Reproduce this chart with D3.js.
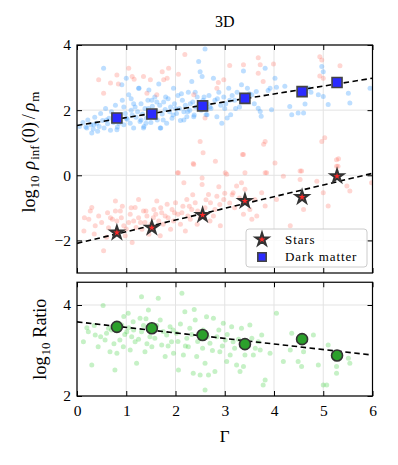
<!DOCTYPE html>
<html><head><meta charset="utf-8">
<script src="https://cdn.jsdelivr.net/npm/d3@7"></script>
<style>body{margin:0;background:#fff}svg{display:block}text{font-family:"Liberation Serif","Times New Roman",serif;fill:#000}</style>
</head><body><svg id="c" width="398" height="465"></svg>
<script>
const gammaTicks=[0,1,2,3,4,5,6];
const topYTicks=[-2,0,2,4];
const botYTicks=[2,4];
const binGamma=[0.81,1.52,2.55,3.41,4.57,5.28];
const dmMedian=[1.76,1.88,2.13,2.36,2.57,2.85];
const starMedian=[-1.76,-1.61,-1.22,-0.79,-0.67,-0.03];
const ratioMedian=[3.52,3.49,3.34,3.14,3.25,2.89];
const fitGamma=[0,6];
const dmFit=[1.53,2.98];
const starFit=[-2.09,0.06];
const ratioFit=[3.63,2.90];
const legendLabels=["Stars","Dark matter"];

const dmScatter=[[0.05,1.5],[0.12,1.62],[0.18,1.48],[0.22,1.7],[0.28,1.55],[0.33,1.42],[0.36,1.78],[0.4,1.6],[0.45,1.5],[0.48,1.9],[0.52,1.68],[0.55,1.45],[0.58,2.05],[0.62,1.58],[0.65,1.75],[0.68,1.38],[0.7,1.95],[0.74,1.62],[0.78,2.15],[0.82,1.48],[0.85,1.82],[0.88,1.65],[0.92,2.3],[0.95,1.55],[0.98,1.9],[1.02,1.72],[1.05,2.47],[1.08,1.6],[1.1,2.0],[1.12,1.85],[1.15,1.45],[1.18,2.1],[1.2,1.78],[1.23,1.95],[1.26,2.67],[1.28,1.65],[1.3,2.2],[1.33,1.88],[1.36,1.5],[1.38,2.05],[1.41,1.75],[1.44,2.3],[1.46,2.62],[1.48,1.92],[1.5,1.62],[1.53,2.12],[1.56,1.8],[1.58,2.4],[1.6,1.98],[1.63,1.7],[1.66,2.8],[1.68,2.15],[1.7,1.45],[1.73,1.88],[1.76,2.25],[1.79,2.02],[1.82,1.6],[1.85,2.35],[1.88,1.95],[1.9,2.1],[1.93,1.75],[1.96,2.67],[1.98,2.2],[2.02,1.9],[2.05,2.45],[2.08,2.05],[2.1,1.68],[2.14,2.3],[2.17,1.95],[2.2,2.15],[2.23,1.8],[2.26,2.55],[2.29,2.0],[2.33,2.88],[2.35,2.25],[2.38,1.85],[2.41,2.1],[2.44,2.4],[2.47,3.49],[2.5,3.18],[2.52,2.0],[2.54,3.03],[2.56,2.3],[2.6,3.88],[2.62,1.86],[2.65,2.2],[2.68,2.45],[2.72,2.05],[2.77,2.98],[2.8,2.3],[2.84,1.8],[2.88,2.55],[2.92,2.15],[2.94,1.6],[2.98,2.4],[3.02,2.2],[3.05,1.76],[3.08,2.67],[3.12,1.86],[3.15,2.45],[3.2,2.3],[3.25,2.55],[3.3,2.1],[3.34,2.78],[3.38,3.2],[3.42,2.4],[3.46,2.67],[3.5,2.5],[3.55,2.47],[3.6,2.2],[3.64,2.57],[3.68,2.06],[3.72,1.96],[3.74,1.81],[3.82,3.29],[3.88,2.6],[3.92,2.67],[3.95,2.01],[4.02,2.98],[4.05,2.7],[4.22,2.73],[4.32,2.11],[4.36,1.86],[4.49,1.91],[4.6,1.91],[4.63,2.19],[4.7,2.67],[4.75,2.55],[4.9,2.47],[4.97,3.34],[5.0,3.18],[5.0,2.42],[5.1,2.17],[5.51,2.52],[5.54,2.22],[5.95,2.67],[0.54,3.29],[1.0,2.98],[0.91,2.78],[1.25,2.67],[0.2,1.45],[0.34,1.55],[0.81,1.4],[1.35,1.45],[1.69,1.45],[2.17,1.7],[2.37,1.8],[2.64,1.86],[1.52,2.3],[1.1,2.35],[0.6,1.7],[0.85,1.6],[1.4,1.6],[1.95,1.85],[2.5,2.15],[3.0,2.05],[2.3,2.2],[1.75,1.7],
[0.3,1.3],[0.42,1.35],[0.95,2.1],[1.15,2.2],[1.3,1.7],[1.45,2.05],[1.62,2.25],[1.8,2.4],[2.0,2.05],[2.12,2.5],[2.25,1.95],[2.4,2.55],[2.58,2.4],[2.7,2.1],[2.85,2.35],[3.1,2.3],[3.22,2.05],[3.35,2.35],[0.75,1.85],[1.0,1.75]];

const starScatter=[[0.44,2.93],[0.54,2.52],[0.68,2.83],[0.81,3.08],[0.84,2.8],[1.05,3.29],[1.12,3.03],[1.16,2.95],[1.35,3.03],[1.42,2.52],[1.49,2.93],[1.62,2.47],[1.73,3.18],[1.76,2.93],[1.86,3.29],[1.83,2.98],[2.06,3.1],[2.19,3.71],[2.37,2.47],[2.6,1.76],[2.5,1.04],[2.56,0.69],[2.36,0.36],[2.04,0.08],[2.84,2.67],[2.87,2.85],[2.98,2.93],[3.1,3.37],[3.38,3.39],[3.68,3.61],[3.72,3.39],[3.68,3.13],[3.78,2.88],[3.99,3.42],[4.93,3.64],[4.97,3.54],[5.0,2.98],[5.34,3.36],[4.93,3.05],[3.82,1.04],[3.79,0.95],[3.38,0.64],[4.02,0.38],[4.56,0.13],[5.03,1.15],[4.97,1.04],[5.31,0.51],[5.27,0.28],[3.41,0.08],[3.82,0.08],
[0.14,-1.71],[0.27,-1.1],[0.3,-0.99],[0.24,-1.35],[0.44,-1.25],[0.37,-1.55],[0.54,-2.32],[0.64,-1.61],[0.68,-1.3],[0.78,-0.79],[0.78,-1.1],[0.88,-1.1],[0.81,-1.4],[0.95,-1.55],[0.98,-1.86],[1.08,-1.2],[1.12,-2.06],[1.15,-1.4],[1.18,-0.99],[1.25,-0.74],[1.29,-1.45],[1.32,-1.66],[1.35,-1.1],[1.42,-1.25],[1.46,-1.81],[1.56,-1.05],[1.62,-0.79],[1.66,-1.4],[1.69,-1.86],[1.79,-1.25],[1.83,-0.89],[1.9,-1.66],[1.93,-1.05],[1.96,-1.4],[2.0,-0.84],[2.06,0.08],[2.1,-1.5],[2.13,-1.15],[2.17,-0.23],[2.2,-1.71],[2.23,-0.74],[2.3,-1.35],[2.33,-1.05],[2.37,0.33],[2.4,-0.84],[2.44,-1.5],[2.54,-0.28],[2.54,-0.08],[2.67,-0.59],[2.71,-0.84],[2.77,-1.25],[2.81,0.43],[2.84,-0.64],[2.91,-1.55],[2.98,-0.74],[3.01,0.08],
[3.04,0.03],[3.17,-0.54],[3.24,-0.33],[3.34,-0.23],[3.36,0.64],[3.41,-0.43],[3.38,-1.2],[3.51,-1.05],[3.55,-1.35],[3.61,-0.74],[3.65,-1.25],[3.75,-0.54],[3.82,-0.94],[3.85,0.08],[4.05,-0.74],[4.19,-0.03],[4.33,-1.55],[4.53,0.13],[4.53,-0.13],[4.6,-1.05],[4.87,-0.18],[5.0,-0.54],[5.1,-0.94],[5.27,0.48],[5.3,0.28],[5.48,-0.33],[5.54,-0.48],[5.98,-0.23],
[0.5,-1.45],[0.6,-1.9],[0.72,-1.35],[0.9,-1.3],[1.0,-1.65],[1.05,-1.45],[1.2,-1.6],[1.25,-1.3],[1.4,-1.1],[1.5,-1.5],[1.6,-1.2],[1.75,-1.5],[1.85,-1.3],[2.05,-1.2],[2.15,-0.95],[2.25,-1.25],[2.45,-1.1],[2.6,-1.0],[2.7,-1.4],[2.9,-0.9],[3.1,-0.85],[3.2,-1.0],[0.35,-1.8],[0.15,-1.3],[2.88,-0.35],[3.0,-0.55],[3.3,-0.7],[1.1,-1.0],[1.7,-1.0],[2.35,-0.6],
[0.62,-1.15],[0.92,-0.95],[1.38,-1.45],[1.55,-1.3],[1.72,-1.15],[1.98,-1.15],[2.28,-0.95],[2.5,-1.3],[2.62,-0.75],[2.8,-1.05],[3.15,-0.6],[3.45,-0.85]];

const ratioScatter=[[0.53,3.99],[0.13,3.19],[0.23,3.41],[0.3,2.68],[0.37,3.34],[0.43,3.08],[0.57,3.23],[0.6,3.38],[0.64,3.49],[0.67,2.97],[0.77,2.57],[0.81,2.94],[0.87,3.23],[0.91,3.56],[0.94,3.08],[1.01,3.41],[1.04,3.82],[1.08,3.01],[1.11,3.3],[1.14,3.63],[1.18,3.19],[1.21,2.72],[1.28,3.71],[1.31,4.18],[1.31,3.41],[1.38,2.97],[1.45,3.89],[1.48,3.3],[1.52,3.08],[1.58,3.27],[1.65,4.15],[1.69,3.67],[1.72,3.12],[1.79,2.87],[1.82,3.34],[1.89,3.52],[1.92,3.19],[1.96,2.94],[2.02,3.38],[2.06,2.57],[2.13,4.26],[2.16,2.9],[2.19,3.85],[2.23,3.27],[2.26,3.08],[2.29,3.49],[2.36,2.5],[2.4,3.67],[2.43,2.87],[2.5,2.46],[2.56,3.45],[2.6,2.72],[2.63,3.74],[2.67,2.46],[2.7,3.16],[2.77,3.71],[2.8,2.54],[2.84,3.3],[2.6,2.13],[2.9,2.97],[2.97,3.6],[3.01,3.23],[3.04,2.76],[3.11,2.9],[3.14,3.52],[3.17,3.19],[3.24,2.68],[3.31,2.54],[3.34,3.49],[3.38,2.65],[3.41,2.9],[3.51,3.56],[3.55,3.27],[3.58,2.9],[3.68,3.19],[3.72,3.01],[3.75,3.34],[3.78,2.24],[3.82,2.35],[3.92,2.94],[4.05,3.82],[4.19,2.76],[4.33,3.01],[4.36,3.38],[4.49,2.76],[4.56,2.65],[4.6,2.97],[4.8,3.34],[4.9,2.68],[5.0,2.24],[5.07,2.24],[5.1,3.12],[5.27,2.65],[5.27,2.5],[5.51,2.83],[5.54,2.72],
[0.2,3.5],[0.35,3.55],[0.48,3.3],[0.7,3.45],[0.75,3.15],[0.85,3.6],[0.97,3.35],[1.05,3.5],[1.15,3.45],[1.25,3.25],[1.35,3.55],[1.42,3.15],[1.55,3.45],[1.62,3.55],[1.75,3.42],[1.85,3.1],[1.95,3.45],[2.05,3.2],[2.1,3.58],[2.2,3.1],[2.33,3.35],[2.45,3.2],[2.55,3.05],[2.65,3.3],[2.75,3.0],[2.88,3.45],[2.95,3.1],[3.05,3.35],[3.2,3.05],[3.28,3.25],[3.45,3.1],[3.62,3.05],[1.4,3.7],[0.95,3.75],[2.38,3.9]];

const svg=d3.select("#c");
const x=d3.scaleLinear().domain([0,6]).range([77,372.5]);
const yT=d3.scaleLinear().domain([-3,4]).range([273,45]);
const yB=d3.scaleLinear().domain([2,4.5]).range([396,282.25]);
const fmt=d3.format("d");
const SERIF="'Liberation Serif','Times New Roman',serif";

function clip(id,y){
  svg.append("clipPath").attr("id",id).append("rect")
    .attr("x",x.range()[0]).attr("y",y.range()[1])
    .attr("width",x.range()[1]-x.range()[0]).attr("height",y.range()[0]-y.range()[1]);
}
function grid(y,yticks){
  const g=svg.append("g").attr("stroke","#e3e3e3").attr("stroke-width",1);
  g.selectAll(".vx").data(gammaTicks).join("line")
    .attr("x1",d=>x(d)).attr("x2",d=>x(d)).attr("y1",y.range()[1]).attr("y2",y.range()[0]);
  g.selectAll(".hy").data(yticks).join("line")
    .attr("y1",d=>y(d)).attr("y2",d=>y(d)).attr("x1",x.range()[0]).attr("x2",x.range()[1]);
}
function axes(y,yticks,showX){
  const x0=x.range()[0],x1=x.range()[1],yb=y.range()[0],yt=y.range()[1];
  const ab=svg.append("g").attr("transform",`translate(0,${yb})`)
    .call(d3.axisBottom(x).tickValues(gammaTicks).tickSize(-5).tickPadding(9).tickFormat(showX?fmt:""));
  const at=svg.append("g").attr("transform",`translate(0,${yt})`)
    .call(d3.axisTop(x).tickValues(gammaTicks).tickSize(-5).tickFormat(""));
  const al=svg.append("g").attr("transform",`translate(${x0},0)`)
    .call(d3.axisLeft(y).tickValues(yticks).tickSize(-5).tickPadding(6).tickFormat(d3.format("d")));
  const ar=svg.append("g").attr("transform",`translate(${x1},0)`)
    .call(d3.axisRight(y).tickValues(yticks).tickSize(-5).tickFormat(""));
  [ab,at,al,ar].forEach(g=>{
    g.attr("font-family",null);
    g.select(".domain").remove();
    g.selectAll(".tick line").attr("stroke","#000").attr("stroke-width",1);
    g.selectAll("text").style("font-family",SERIF).attr("font-size",15.5).attr("fill","#000");
  });
  svg.append("rect").attr("x",x0).attr("y",yt).attr("width",x1-x0).attr("height",yb-yt)
    .attr("fill","none").attr("stroke","#000").attr("stroke-width",1.2);
}
function scatter(data,y,color,op,cid){
  svg.append("g").attr("clip-path",`url(#${cid})`).selectAll("circle").data(data).join("circle")
    .attr("cx",d=>x(d[0])).attr("cy",d=>y(d[1])).attr("r",2.5)
    .attr("fill",color).attr("fill-opacity",op);
}
function fitLine(vals,y,cid){
  svg.append("line").attr("clip-path",`url(#${cid})`)
    .attr("x1",x(fitGamma[0])).attr("x2",x(fitGamma[1]))
    .attr("y1",y(vals[0])).attr("y2",y(vals[1]))
    .attr("stroke","#000").attr("stroke-width",1.6).attr("stroke-dasharray","5.5,3.5");
}

clip("cT",yT); clip("cB",yB);
// top panel
grid(yT,topYTicks);
scatter(dmScatter,yT,"#3399ff",0.32,"cT");
scatter(starScatter,yT,"#ff6a5c",0.28,"cT");
fitLine(dmFit,yT,"cT");
fitLine(starFit,yT,"cT");
const star=d3.symbol().type(d3.symbolStar).size(50);
const sq=d3.symbol().type(d3.symbolSquare).size(100);
svg.append("g").selectAll("path").data(binGamma).join("path")
  .attr("transform",(d,i)=>`translate(${x(d)},${yT(starMedian[i])})`).attr("d",star)
  .attr("fill","#ff2a2a").attr("stroke","#333").attr("stroke-width",2).attr("stroke-linejoin","miter");
svg.append("g").selectAll("path").data(binGamma).join("path")
  .attr("transform",(d,i)=>`translate(${x(d)},${yT(dmMedian[i])})`).attr("d",sq)
  .attr("fill","#2b2bff").attr("stroke","#444").attr("stroke-width",1.6);
axes(yT,topYTicks,false);

// legend
const lg=svg.append("g");
lg.append("rect").attr("x",246).attr("y",229).attr("width",121).attr("height",38).attr("rx",3)
  .attr("fill","#fff").attr("fill-opacity",0.8).attr("stroke","#cccccc").attr("stroke-width",1);
lg.append("path").attr("transform","translate(262,239.5)").attr("d",star)
  .attr("fill","#ff2a2a").attr("stroke","#333").attr("stroke-width",2);
lg.append("path").attr("transform","translate(262,257)").attr("d",d3.symbol().type(d3.symbolSquare).size(70))
  .attr("fill","#2b2bff").attr("stroke","#444").attr("stroke-width",1.6);
lg.selectAll("text").data(legendLabels).join("text")
  .attr("x",285).attr("y",(d,i)=>243.5+i*17).attr("font-size",13).attr("letter-spacing",0.9).text(d=>d);

// bottom panel
grid(yB,botYTicks);
scatter(ratioScatter,yB,"#33cc33",0.28,"cB");
fitLine(ratioFit,yB,"cB");
svg.append("g").selectAll("circle").data(binGamma).join("circle")
  .attr("cx",d=>x(d)).attr("cy",(d,i)=>yB(ratioMedian[i])).attr("r",5.5)
  .attr("fill","#2ca02c").attr("stroke","#333").attr("stroke-width",1.6);
axes(yB,botYTicks,true);

// titles
svg.append("text").attr("x",(x.range()[0]+x.range()[1])/2).attr("y",27).attr("text-anchor","middle")
  .attr("font-size",16).text("3D");
svg.append("text").attr("x",(x.range()[0]+x.range()[1])/2).attr("y",442).attr("text-anchor","middle")
  .attr("font-size",17).text("Γ");
const t1=svg.append("text").attr("transform",`translate(35,152) rotate(-90)`)
  .attr("text-anchor","middle").attr("font-size",18);
t1.append("tspan").text("log");
t1.append("tspan").attr("font-size",13).attr("dy",4).attr("dx",1).text("10");
t1.append("tspan").attr("dy",-4).attr("dx",6).attr("font-style","italic").text("ρ");
t1.append("tspan").attr("font-size",13).attr("dy",4).attr("dx",1).text("inf");
t1.append("tspan").attr("dy",-4).attr("dx",2).text("(0)");
t1.append("tspan").attr("dx",3).text("/");
t1.append("tspan").attr("dx",3).attr("font-style","italic").text("ρ");
t1.append("tspan").attr("font-size",13).attr("dy",4).attr("dx",1).text("m");
const t2=svg.append("text").attr("transform",`translate(46,${(yB.range()[0]+yB.range()[1])/2}) rotate(-90)`)
  .attr("text-anchor","middle").attr("font-size",18);
t2.append("tspan").text("log");
t2.append("tspan").attr("font-size",13).attr("dy",4).attr("dx",1).text("10");
t2.append("tspan").attr("dy",-4).attr("dx",5).text("Ratio");
</script></body></html>
